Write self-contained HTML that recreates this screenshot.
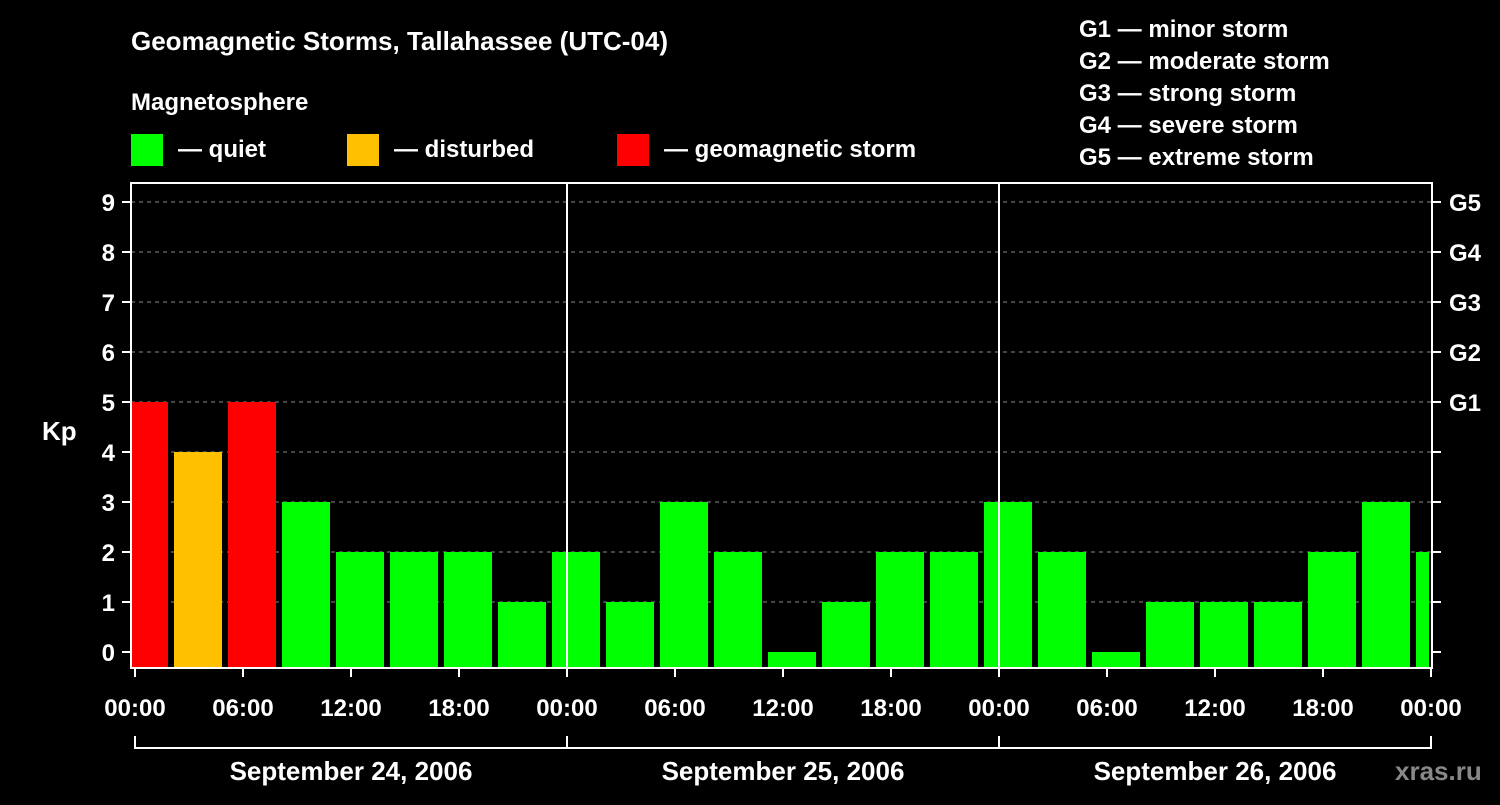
<!DOCTYPE html>
<html><head><meta charset="utf-8"><style>
body{margin:0;background:#000;width:1500px;height:800px;overflow:hidden}
svg text{font-family:"Liberation Sans",Arial,sans-serif;font-weight:bold;fill:#fff}
</style></head><body>
<svg id="c" width="1500" height="800" xmlns="http://www.w3.org/2000/svg">
<text x="131" y="50" font-size="26">Geomagnetic Storms, Tallahassee (UTC-04)</text>
<text x="131" y="110" font-size="24">Magnetosphere</text>
<rect x="131" y="134" width="32" height="32" fill="#00ff00"/>
<text x="178" y="157" font-size="24">— quiet</text>
<rect x="347" y="134" width="32" height="32" fill="#ffc000"/>
<text x="394" y="157" font-size="24">— disturbed</text>
<rect x="617" y="134" width="32" height="32" fill="#ff0000"/>
<text x="664" y="157" font-size="24">— geomagnetic storm</text>
<g font-size="24">
<text x="1079" y="37">G1 — minor storm</text>
<text x="1079" y="69">G2 — moderate storm</text>
<text x="1079" y="101">G3 — strong storm</text>
<text x="1079" y="133">G4 — severe storm</text>
<text x="1079" y="165">G5 — extreme storm</text>
</g>
<text x="42" y="440" font-size="26">Kp</text>
<text x="1395" y="780" font-size="26" fill="#888" style="fill:#888">xras.ru</text>
<g id="grid"></g><g id="bars"></g><g id="axes"></g>
</svg>
<script>
const values=[5,4,5,3,2,2,2,1,2,1,3,2,0,1,2,2,3,2,0,1,1,1,2,3,2];
const yTicks=[0,1,2,3,4,5,6,7,8,9];
const gLabels=["G1","G2","G3","G4","G5"];
const xLabels=["00:00","06:00","12:00","18:00","00:00","06:00","12:00","18:00","00:00","06:00","12:00","18:00","00:00"];
const days=["September 24, 2006","September 25, 2006","September 26, 2006"];
const NS="http://www.w3.org/2000/svg";
const L=131,R=1432,T=183,B=668,X0=135,PX_H=18;
const y=v=>652-50*v;
const x=h=>X0+h*PX_H;
function mk(tag,attrs,parent,txt){const e=document.createElementNS(NS,tag);for(const k in attrs)e.setAttribute(k,attrs[k]);if(txt!=null)e.textContent=txt;document.getElementById(parent).appendChild(e);return e;}
const col=v=>v>=5?"#ff0000":v>=4?"#ffc000":"#00ff00";
yTicks.forEach(v=>{
 if(v>0){const g=mk("line",{x1:L,x2:R,y1:y(v),y2:y(v),stroke:"#888","stroke-width":1,"stroke-dasharray":"4,4"},"grid");
 
 }
 const t=mk("line",{x1:122,x2:L,y1:y(v),y2:y(v),stroke:"#fff","stroke-width":2},"axes");
 
 
 const t2=mk("line",{x1:R,x2:R+9,y1:y(v),y2:y(v),stroke:"#fff","stroke-width":2},"axes");
 
 
 const lb=mk("text",{x:115,y:y(v)+9,"font-size":24,"text-anchor":"end"},"axes",String(v));
 
 
});
gLabels.forEach((g,i)=>{
 const lb=mk("text",{x:1449,y:y(5+i)+9,"font-size":24},"axes",g);
 
 
});
mk("clipPath",{id:"cp"},"bars");
mk("rect",{x:L,y:T,width:R-L-3,height:B-T},"bars").remove();
document.getElementById("cp").appendChild(Object.assign(document.createElementNS(NS,"rect"),{}));
const cr=document.getElementById("cp").firstChild;cr.setAttribute("x",L+1);cr.setAttribute("y",T);cr.setAttribute("width",R-L-4);cr.setAttribute("height",B-T);
values.forEach((v,i)=>{
 const h0=-1+3*i;
 const b=mk("rect",{x:x(h0)+3,y:y(v),width:48,height:B-y(v),fill:col(v),"clip-path":"url(#cp)"},"bars");
 
 
});
const fr=mk("rect",{x:L,y:T,width:R-L,height:B-T,fill:"none",stroke:"#fff","stroke-width":2},"axes");


[1,2].forEach(d=>{const l=mk("line",{x1:x(24*d),x2:x(24*d),y1:T,y2:B,stroke:"#fff","stroke-width":2},"axes");
 
 });
xLabels.forEach((s,i)=>{
 const tk=mk("line",{x1:x(6*i),x2:x(6*i),y1:B,y2:B+9,stroke:"#fff","stroke-width":2},"axes");
 
 
 const lb=mk("text",{x:x(6*i),y:716,"font-size":24,"text-anchor":"middle"},"axes",s);
 
 
});
const br=mk("path",{d:`M${x(0)},736V748H${x(72)}V736`,fill:"none",stroke:"#fff","stroke-width":2},"axes");


[1,2].forEach(d=>{const l=mk("line",{x1:x(24*d),x2:x(24*d),y1:736,y2:748,stroke:"#fff","stroke-width":2},"axes");
 
 });
days.forEach((s,i)=>{
 const lb=mk("text",{x:x(24*i+12),y:780,"font-size":26,"text-anchor":"middle"},"axes",s);
 
 
});
</script>
</body></html>
